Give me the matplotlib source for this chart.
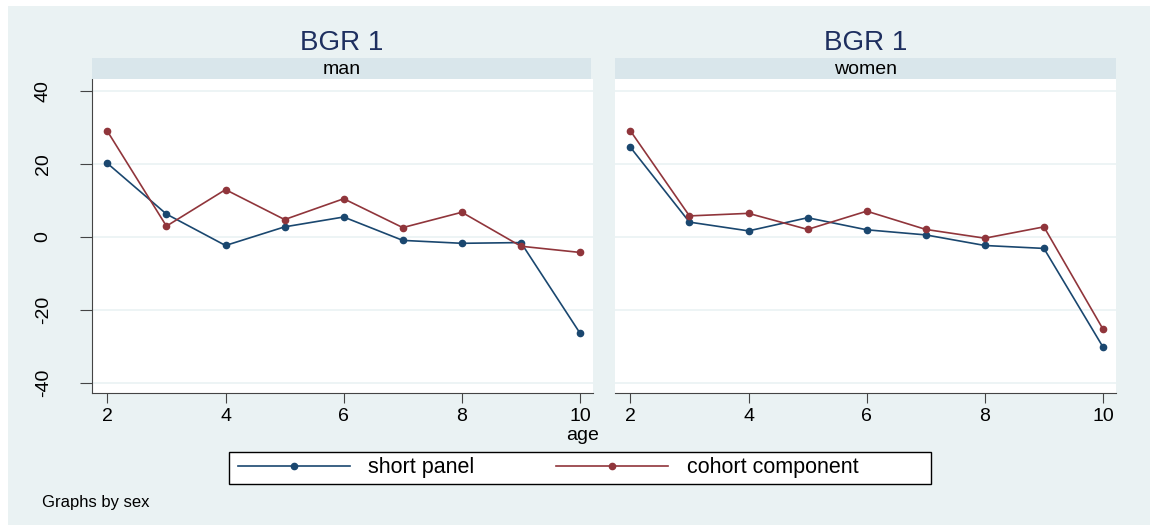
import matplotlib
matplotlib.use("Agg")
import matplotlib.pyplot as plt
from matplotlib.patches import Rectangle
from matplotlib.lines import Line2D

plt.rcParams["font.family"] = ["Liberation Sans", "DejaVu Sans"]
plt.rcParams["axes.unicode_minus"] = False

# data
age = [2, 3, 4, 5, 6, 7, 8, 9, 10]
man_short = [20.1, 6.2, -2.4, 2.7, 5.4, -1.0, -1.8, -1.6, -26.4]
man_cohort = [28.9, 2.9, 12.9, 4.7, 10.4, 2.5, 6.7, -2.6, -4.3]
women_short = [24.5, 4.0, 1.6, 5.2, 1.9, 0.5, -2.4, -3.2, -30.2]
women_cohort = [29.0, 5.7, 6.4, 2.0, 7.0, 2.0, -0.4, 2.7, -25.3]
panels = ["man", "women"]
yticks = [-40, -20, 0, 20, 40]
xticks = [2, 4, 6, 8, 10]

navy = "#1a476f"
maroon = "#90353b"
bg = "#eaf2f3"
strip = "#d9e6eb"

W, H = 1150, 525
fig = plt.figure(figsize=(W / 100, H / 100), dpi=100)
fig.patch.set_facecolor("white")
fig.patches.append(Rectangle((8 / W, 0), 1 - 8 / W, 1 - 6 / H,
                             transform=fig.transFigure, facecolor=bg,
                             edgecolor="none", zorder=-10))

def px(x0, y0, x1, y1):
    # pixel box (top-left origin) -> figure fraction rect
    return [x0 / W, 1 - y1 / H, (x1 - x0) / W, (y1 - y0) / H]

ax_boxes = [px(92, 79.3, 593, 392.7), px(615, 79.3, 1116, 392.7)]
strip_boxes = [px(92, 57.7, 591, 79.3), px(615, 57.7, 1116, 79.3)]
series = [(man_short, man_cohort), (women_short, women_cohort)]

for i, name in enumerate(panels):
    ax = fig.add_axes(ax_boxes[i])
    ax.set_facecolor("white")
    short, cohort = series[i]
    ax.plot(age, short, color=navy, lw=1.2, marker="o", ms=4.5, zorder=3)
    ax.plot(age, cohort, color=maroon, lw=1.2, marker="o", ms=4.5, zorder=3)
    ax.set_xlim(1.74, 10.22)
    ax.set_ylim(-42.7, 43.1)
    ax.set_xticks(xticks)
    ax.set_yticks(yticks)
    for y in yticks:
        ax.axhline(y, color=bg, lw=1.2, zorder=1)
    for s in ["top", "right"]:
        ax.spines[s].set_visible(False)
    ax.spines["bottom"].set_color("#444444")
    ax.tick_params(axis="x", labelsize=14, length=7, color="#444444", pad=4)
    if i == 0:
        ax.spines["left"].set_color("#444444")
        ax.tick_params(axis="y", labelsize=14, length=9, color="#444444", pad=20)
        plt.setp(ax.get_yticklabels(), rotation=90, va="center")
    else:
        ax.spines["left"].set_visible(False)
        ax.tick_params(axis="y", left=False, labelleft=False)

    sx = fig.add_axes(strip_boxes[i])
    sx.set_facecolor(strip)
    sx.set_xticks([])
    sx.set_yticks([])
    for s in sx.spines.values():
        s.set_visible(False)
    sx.text(0.5, 0.45, name, ha="center", va="center", fontsize=14,
            transform=sx.transAxes)
    cx = (strip_boxes[i][0] + strip_boxes[i][2] / 2)
    fig.text(cx, 1 - 43 / H, "BGR 1", ha="center", va="center",
             fontsize=20, color="#1e2f5f")

fig.text(583 / W, 1 - 436 / H, "age", ha="center", va="center", fontsize=14)

# legend: frame drawn separately, entries placed inside it
fig.patches.append(Rectangle((229 / W, 1 - 484 / H), 702 / W, 32 / H,
                             transform=fig.transFigure, facecolor="white",
                             edgecolor="black", lw=1.0, zorder=1))
handles = [Line2D([], [], color=navy, lw=1.2, marker="o", ms=4.5),
           Line2D([], [], color=maroon, lw=1.2, marker="o", ms=4.5)]
leg = fig.legend(handles, ["short panel", "cohort component"], ncol=2,
                 loc="center left", bbox_to_anchor=(238 / W, 1 - 468 / H),
                 fontsize=15.5, frameon=False, handlelength=5.2,
                 columnspacing=3.8, handletextpad=0.85, borderpad=0.0,
                 borderaxespad=0.0)
leg.set_zorder(2)

fig.text(42 / W, 1 - 503 / H, "Graphs by sex", ha="left", va="center",
         fontsize=12)

fig.savefig("out.png", dpi=100, facecolor=fig.get_facecolor())
